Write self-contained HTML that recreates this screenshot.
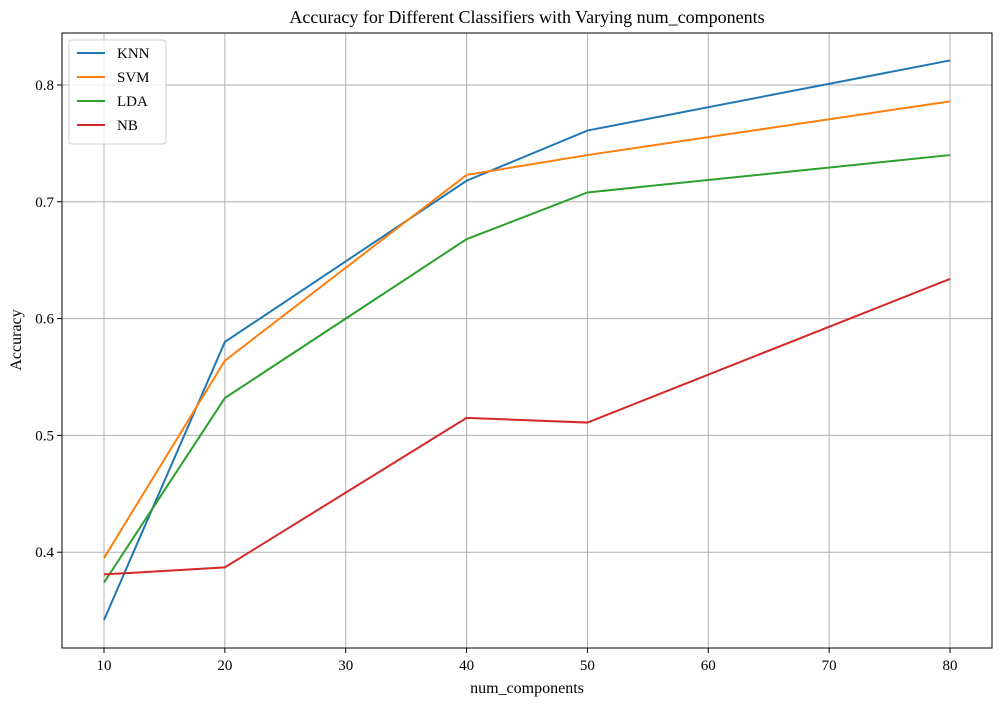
<!DOCTYPE html>
<html><head><meta charset="utf-8"><style>
body{margin:0;background:#fff;}
svg{display:block;font-family:"Liberation Serif","Times New Roman",serif;}
</style></head><body>
<svg id="chart" width="1002" height="705">
<g id="grid"></g>
<g id="series"></g>
<rect x="62" y="33" width="930" height="615" fill="none" stroke="#000" stroke-width="1"/>
<g id="ticks"></g>
<text x="527" y="23" text-anchor="middle" font-size="18">Accuracy for Different Classifiers with Varying num_components</text>
<text x="527" y="693" text-anchor="middle" font-size="16">num_components</text>
<text x="21" y="340" text-anchor="middle" font-size="16" transform="rotate(-90 21 340)">Accuracy</text>
<g id="legend"></g>
</svg>
<script>
const xValues = [10, 20, 40, 50, 80];
const knnValues = [0.342, 0.580, 0.718, 0.761, 0.821];
const svmValues = [0.395, 0.564, 0.723, 0.740, 0.786];
const ldaValues = [0.374, 0.532, 0.668, 0.708, 0.740];
const nbValues = [0.381, 0.387, 0.515, 0.511, 0.634];
const seriesNames = ["KNN", "SVM", "LDA", "NB"];
const xTicks = [10, 20, 30, 40, 50, 60, 70, 80];
const yTicks = [0.4, 0.5, 0.6, 0.7, 0.8];

const NS = "http://www.w3.org/2000/svg";
const L = 62, R = 992, T = 33, B = 648;
const xMin = 6.525, xMax = 83.475, yMin = 0.318, yMax = 0.8445;
const sx = v => L + (v - xMin) / (xMax - xMin) * (R - L);
const sy = v => B - (v - yMin) / (yMax - yMin) * (B - T);
function mk(tag, attrs, parent) {
  const e = document.createElementNS(NS, tag);
  for (const k in attrs) e.setAttribute(k, attrs[k]);
  parent.appendChild(e);
  return e;
}
const grid = document.getElementById("grid"), ticks = document.getElementById("ticks");
xTicks.forEach(t => {
  const x = sx(t);
  const g = mk("line", {x1: x, x2: x, y1: T, y2: B, stroke: "#b0b0b0", "stroke-width": 1}, grid);
  
  
  const tk = mk("line", {x1: x, x2: x, y1: B, y2: B + 5, stroke: "#000"}, ticks);
  
  
  const tx = mk("text", {x: x, y: B + 22, "text-anchor": "middle", "font-size": 15}, ticks);
  tx.textContent = t;
  
  
});
yTicks.forEach(t => {
  const y = sy(t);
  const g = mk("line", {x1: L, x2: R, y1: y, y2: y, stroke: "#b0b0b0", "stroke-width": 1}, grid);
  
  
  const tk = mk("line", {x1: L - 5, x2: L, y1: y, y2: y, stroke: "#000"}, ticks);
  
  
  const tx = mk("text", {x: L - 8, y: y + 5, "text-anchor": "end", "font-size": 15}, ticks);
  tx.textContent = t.toFixed(1);
  
  
});
const colors = ["#1f77b4", "#ff7f0e", "#2ca02c", "#d62728"];
const allValues = [knnValues, svmValues, ldaValues, nbValues];
const series = document.getElementById("series");
allValues.forEach((vals, i) => {
  const pts = vals.map((v, j) => sx(xValues[j]) + "," + sy(v)).join(" ");
  const p = mk("polyline", {points: pts, fill: "none", stroke: colors[i], "stroke-width": 2}, series);
  
  
});
const legend = document.getElementById("legend");
const box = mk("rect", {x: 69, y: 40, width: 97, height: 104, rx: 3, fill: "#fff", "fill-opacity": 0.8, stroke: "#ccc"}, legend);


seriesNames.forEach((n, i) => {
  const y = 53 + i * 24;
  const ln = mk("line", {x1: 77, x2: 105, y1: y, y2: y, stroke: colors[i], "stroke-width": 2}, legend);
  
  
  const tx = mk("text", {x: 117, y: y + 5, "font-size": 15}, legend);
  tx.textContent = n;
  
  
});
</script>
</body></html>
